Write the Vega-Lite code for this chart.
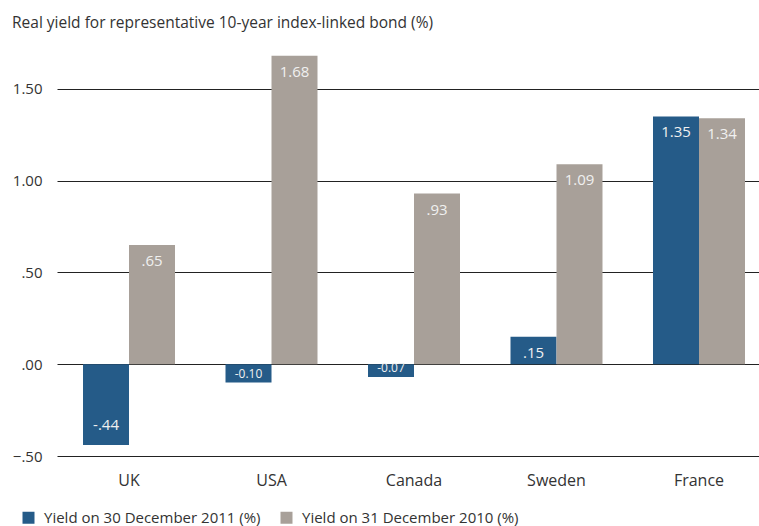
{
  "$schema": "https://vega.github.io/schema/vega-lite/v6.json",
  "width": 702,
  "height": 413,
  "autosize": "none",
  "padding": {"left": 57, "top": 43, "right": 0, "bottom": 70},
  "background": "white",
  "title": {
    "text": "Real yield for representative 10-year index-linked bond (%)",
    "anchor": "start",
    "frame": "group",
    "dx": -45,
    "offset": 12,
    "font": "Open Sans",
    "fontSize": 15.5,
    "fontWeight": "normal",
    "color": "#333333"
  },
  "data": {
    "values": [
      {"country": "UK", "series": "Yield on 30 December 2011 (%)", "value": -0.44, "label": "-.44"},
      {"country": "UK", "series": "Yield on 31 December 2010 (%)", "value": 0.65, "label": ".65"},
      {"country": "USA", "series": "Yield on 30 December 2011 (%)", "value": -0.10, "label": "-0.10"},
      {"country": "USA", "series": "Yield on 31 December 2010 (%)", "value": 1.68, "label": "1.68"},
      {"country": "Canada", "series": "Yield on 30 December 2011 (%)", "value": -0.07, "label": "-0.07"},
      {"country": "Canada", "series": "Yield on 31 December 2010 (%)", "value": 0.93, "label": ".93"},
      {"country": "Sweden", "series": "Yield on 30 December 2011 (%)", "value": 0.15, "label": ".15"},
      {"country": "Sweden", "series": "Yield on 31 December 2010 (%)", "value": 1.09, "label": "1.09"},
      {"country": "France", "series": "Yield on 30 December 2011 (%)", "value": 1.35, "label": "1.35"},
      {"country": "France", "series": "Yield on 31 December 2010 (%)", "value": 1.34, "label": "1.34"}
    ]
  },
  "encoding": {
    "x": {
      "field": "country",
      "type": "nominal",
      "sort": ["UK", "USA", "Canada", "Sweden", "France"],
      "scale": {"paddingInner": 0.3544, "paddingOuter": 0.1404, "align": 0.65},
      "axis": {
        "title": null,
        "domain": false,
        "ticks": false,
        "labelAngle": 0,
        "labelPadding": 16,
        "labelFont": "Open Sans",
        "labelFontSize": 16,
        "labelColor": "#333333"
      }
    },
    "xOffset": {
      "field": "series",
      "type": "nominal",
      "scale": {"paddingInner": 0, "paddingOuter": 0}
    },
    "y": {
      "field": "value",
      "type": "quantitative",
      "scale": {"domain": [-0.5, 1.75], "nice": false, "zero": false},
      "axis": {
        "title": null,
        "values": [-0.5, 0, 0.5, 1, 1.5],
        "labelExpr": "replace(format(datum.value, '.2f'), '0.', '.')",
        "domain": false,
        "ticks": false,
        "grid": true,
        "gridColor": "#222222",
        "gridWidth": 1,
        "gridOpacity": 1,
        "labelPadding": 15,
        "labelFont": "Open Sans",
        "labelFontSize": 15,
        "labelColor": "#333333"
      }
    }
  },
  "layer": [
    {
      "mark": {"type": "bar"},
      "encoding": {
        "color": {
          "field": "series",
          "type": "nominal",
          "scale": {
            "domain": ["Yield on 30 December 2011 (%)", "Yield on 31 December 2010 (%)"],
            "range": ["#255b88", "#a8a099"]
          },
          "legend": {
            "title": null,
            "orient": "none",
            "direction": "horizontal",
            "legendX": -36,
            "legendY": 467,
            "symbolType": "square",
            "symbolSize": 144,
            "symbolStrokeWidth": 0,
            "symbolOpacity": 1,
            "labelOffset": 8,
            "columnPadding": 18,
            "labelFont": "Open Sans",
            "labelFontSize": 15,
            "labelColor": "#333333",
            "labelLimit": 400
          }
        }
      }
    },
    {
      "transform": [{"filter": "datum.value > 0"}],
      "mark": {"type": "text", "baseline": "top", "dy": 9, "font": "Open Sans", "fontSize": 15, "color": "#f0f0f0"},
      "encoding": {"text": {"field": "label"}}
    },
    {
      "transform": [{"filter": "datum.value < -0.2"}],
      "mark": {"type": "text", "baseline": "bottom", "dy": -12, "font": "Open Sans", "fontSize": 15, "color": "#f0f0f0"},
      "encoding": {"text": {"field": "label"}}
    },
    {
      "transform": [{"filter": "datum.value < 0 && datum.value >= -0.2"}],
      "mark": {"type": "text", "baseline": "middle", "dy": -9, "font": "Open Sans", "fontSize": 12, "color": "#f0f0f0"},
      "encoding": {"text": {"field": "label"}}
    }
  ],
  "config": {
    "view": {"stroke": null}
  }
}
